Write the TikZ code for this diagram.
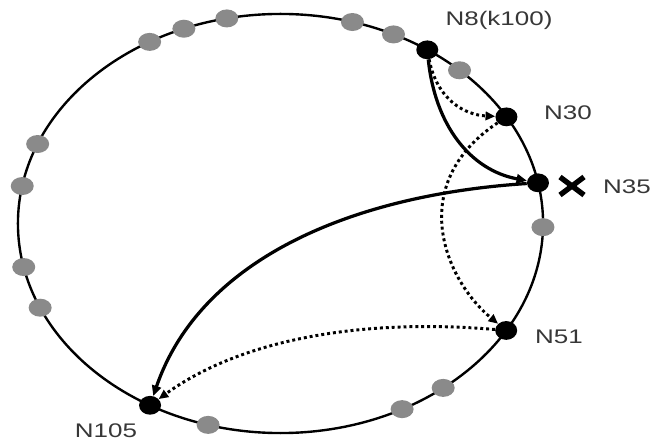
\documentclass[tikz,border=0pt]{standalone}
\usepackage{fontspec}
\usepackage{graphicx}
\setmainfont{Liberation Sans}
\usetikzlibrary{shapes.geometric,arrows.meta,calc}
\definecolor{dotgray}{RGB}{138,138,138}
\definecolor{txt}{RGB}{55,55,55}
\tikzset{
  ring/.style={line width=1.7pt},
  graydot/.style={ellipse,fill=dotgray,draw=none,minimum width=0.575cm,minimum height=0.45cm,inner sep=0pt},
  blackdot/.style={ellipse,fill=black,draw=none,minimum width=0.55cm,minimum height=0.47cm,inner sep=0pt},
  lbl/.style={text=txt,font=\fontsize{14}{16}\selectfont,inner sep=0pt},
  solidarrow/.style={line width=2.3pt,-{Triangle[length=2.6mm,width=2.3mm]}},
  dotarrow/.style={line width=2.1pt,dash pattern=on 2.1pt off 2.1pt,-{Triangle[length=2.4mm,width=2.1mm]}},
}
\newcommand{\wide}[1]{\scalebox{1.32}[1]{#1}}
\begin{document}
\begin{tikzpicture}[x=0.025cm,y=-0.025cm]
\useasboundingbox (0,0) rectangle (651,445);
\coordinate (C) at (280.5,223.5);
\draw[ring] (C) ellipse [x radius=6.5625cm, y radius=5.2375cm];
\foreach \a [count=\i] in {-119.9,-111.6,-101.8,-74.1,-64.5,-47,1,51.7,62.4,106,156.3,168,190.3,202.3}
  \node[graydot] (g\i) at ($(C)+(\a:262.5 and 209.5)$) {};
\node[blackdot] (n8) at ($(C)+(-56:262.5 and 209.5)$) {};
\node[blackdot] (n30) at ($(C)+(-30.6:262.5 and 209.5)$) {};
\node[blackdot] (n35) at ($(C)+(-11.2:262.5 and 209.5)$) {};
\node[blackdot] (n51) at ($(C)+(30.7:262.5 and 209.5)$) {};
\node[blackdot] (n105) at ($(C)+(119.8:262.5 and 209.5)$) {};
% connectors
\draw[solidarrow] (n8) .. controls (435,125) and (470,170) .. (n35);
\draw[dotarrow] (n8) .. controls (437,100) and (465,115) .. (n30);
\draw[dotarrow] (n30) .. controls (405,185) and (445,280) .. (n51);
\draw[solidarrow] (n35) .. controls (350,195) and (200,260) .. (n105);
\draw[dotarrow] (n51) .. controls (360,318) and (240,340) .. (n105);
% failure mark
\coordinate (xm) at (572,186);
\draw[line width=3.8pt] ($(xm)+(-12,-9)$) -- ($(xm)+(12,9)$);
\draw[line width=3.8pt] ($(xm)+(-12,9)$) -- ($(xm)+(12,-9)$);
% labels
\node[lbl] (l8) at (499,20) {\wide{N8(k100)}};
\node[lbl] (l30) at (568,113) {\wide{N30}};
\node[lbl] (l35) at (627,187) {\wide{N35}};
\node[lbl] (l51) at (559,337) {\wide{N51}};
\node[lbl] (l105) at (106,431) {\wide{N105}};
\end{tikzpicture}
\end{document}
